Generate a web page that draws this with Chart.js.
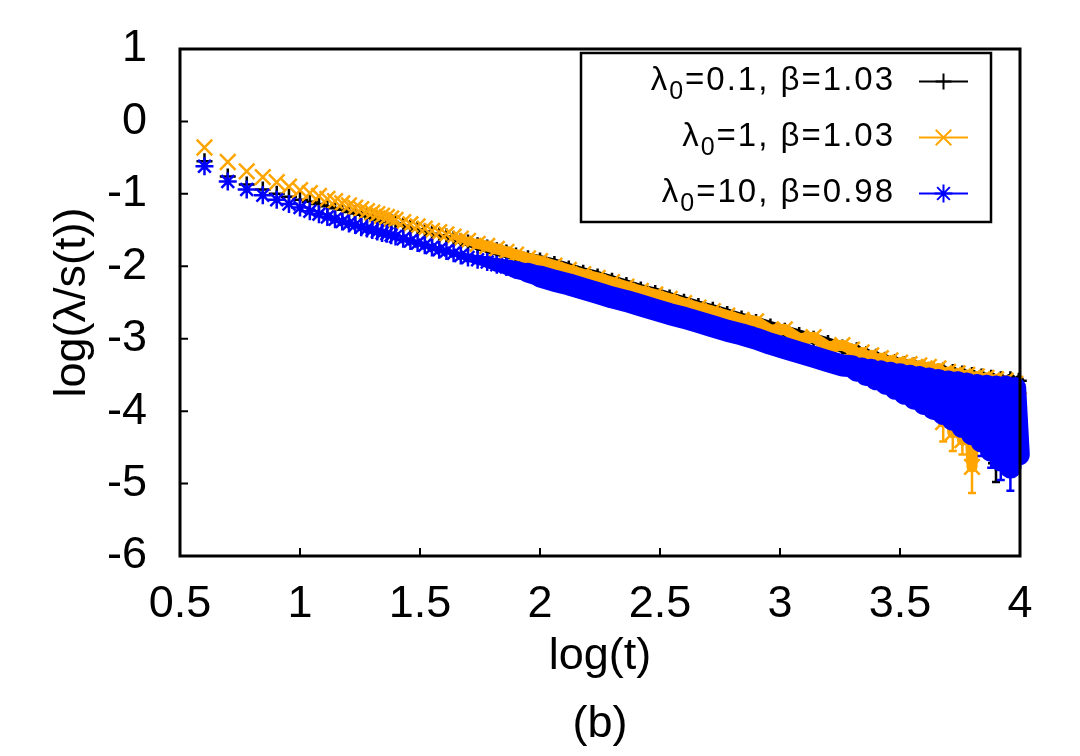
<!DOCTYPE html>
<html>
<head>
<meta charset="utf-8">
<title>log(λ/s(t)) vs log(t)</title>
<script src="https://cdn.jsdelivr.net/npm/chart.js@4.4.1/dist/chart.umd.min.js"></script>
<style>
  html, body { margin: 0; padding: 0; background: #fff; }
  #wrap { width: 1080px; height: 756px; }
</style>
</head>
<body>
<div id="wrap"><canvas id="plot" width="1080" height="756"></canvas></div>
<script>
// ---- data ----
// x positions: log10(t)
const logT = [
  0.602, 0.699, 0.778, 0.845, 0.903, 0.954, 1.000, 1.041, 1.079, 1.114, 1.146,
  1.176, 1.204, 1.230, 1.255, 1.279, 1.301, 1.322, 1.342, 1.362, 1.380, 1.398,
  1.43, 1.46, 1.49, 1.52, 1.55, 1.58, 1.61, 1.64, 1.67, 1.70, 1.74, 1.78, 1.82,
  1.86, 1.90, 1.95, 2.00, 2.06, 2.12, 2.18, 2.24, 2.30, 2.36, 2.42, 2.48, 2.54,
  2.60, 2.66, 2.72, 2.78, 2.84, 2.90, 2.96, 3.02, 3.08, 3.14, 3.20, 3.26,
  3.30, 3.32, 3.34, 3.36, 3.38, 3.40, 3.42, 3.44, 3.46, 3.48, 3.50, 3.52, 3.54,
  3.56, 3.58, 3.60, 3.62, 3.64, 3.66, 3.68, 3.70, 3.72, 3.74, 3.76, 3.78, 3.80,
  3.82, 3.84, 3.86, 3.88, 3.90, 3.92, 3.94, 3.96, 3.98, 3.995
];

// lambda0 = 0.1, beta = 1.03
const black01 = [
  -0.55, -0.76, -0.87, -0.94, -1.00, -1.04, -1.08, -1.11, -1.14, -1.17, -1.20,
  -1.22, -1.25, -1.27, -1.29, -1.31, -1.33, -1.35, -1.36, -1.38, -1.39, -1.41,
  -1.44, -1.47, -1.49, -1.52, -1.55, -1.57, -1.59, -1.62, -1.65, -1.67, -1.71, -1.74, -1.78,
  -1.81, -1.85, -1.89, -1.92, -1.97, -2.03, -2.09, -2.14, -2.20, -2.26, -2.32, -2.37, -2.43,
  -2.49, -2.55, -2.60, -2.66, -2.72, -2.77, -2.83, -2.89, -2.95, -3.00, -3.06, -3.12,
  -3.18, -3.16, -3.25, -3.21, -3.30, -3.25, -3.36, -3.29, -3.42, -3.32, -3.48, -3.35, -3.55,
  -3.37, -3.62, -3.40, -3.70, -3.42, -3.78, -3.44, -3.88, -3.46, -3.98, -3.48, -4.10, -3.50,
  -4.20, -3.52, -4.35, -3.54, -4.72, -3.56, -4.50, -3.56, -4.60, -3.58
];

// lambda0 = 1, beta = 1.03
const orange1 = [
  -0.36, -0.56, -0.69, -0.77, -0.84, -0.90, -0.95, -0.99, -1.03, -1.07, -1.10,
  -1.13, -1.16, -1.19, -1.21, -1.24, -1.26, -1.28, -1.30, -1.32, -1.34, -1.36,
  -1.39, -1.42, -1.45, -1.48, -1.51, -1.53, -1.56, -1.59, -1.62, -1.65, -1.69, -1.72, -1.76,
  -1.80, -1.84, -1.89, -1.93, -1.99, -2.05, -2.11, -2.16, -2.22, -2.28, -2.34, -2.39, -2.45,
  -2.51, -2.57, -2.62, -2.68, -2.74, -2.76, -2.88, -2.87, -3.00, -2.98, -3.11, -3.09,
  -3.15, -3.24, -3.19, -3.30, -3.23, -3.36, -3.27, -3.42, -3.30, -3.48, -3.33, -3.55, -3.35,
  -3.62, -3.37, -3.70, -3.39, -3.82, -3.41, -4.15, -3.46, -4.30, -3.48, -4.40, -3.50, -4.77,
  -3.52, -4.15, -3.54, -3.95, -3.56, -4.05, -3.58, -3.90, -3.62, -3.85
];

// lambda0 = 10, beta = 0.98
const blue10 = [
  -0.62, -0.83, -0.94, -1.02, -1.08, -1.14, -1.19, -1.24, -1.28, -1.32, -1.35,
  -1.38, -1.41, -1.43, -1.46, -1.48, -1.50, -1.52, -1.54, -1.55, -1.57, -1.59,
  -1.62, -1.65, -1.68, -1.71, -1.74, -1.77, -1.79, -1.82, -1.85, -1.88, -1.91, -1.94, -1.98,
  -2.01, -2.05, -2.09, -2.14, -2.20, -2.25, -2.31, -2.37, -2.43, -2.48, -2.54, -2.60, -2.66,
  -2.71, -2.77, -2.83, -2.89, -2.94, -3.00, -3.07, -3.13, -3.19, -3.25, -3.31, -3.37,
  -3.38, -3.44, -3.41, -3.50, -3.43, -3.56, -3.45, -3.62, -3.47, -3.69, -3.49, -3.76, -3.51,
  -3.83, -3.53, -3.90, -3.55, -3.97, -3.57, -4.04, -3.59, -4.12, -3.60, -4.22, -3.62, -4.32,
  -3.64, -4.42, -3.65, -4.55, -3.66, -4.68, -3.66, -4.78, -3.68, -4.60
];

// the few error bars that stick out below the band at large t
const blackErrX  = [3.86, 3.90, 3.94, 3.98];
const blackErrLo = [-4.55, -4.98, -4.75, -4.85];
const blackErrHi = [-4.20, -4.50, -4.32, -4.42];
const orangeErrX  = [3.68, 3.72, 3.76, 3.80];
const orangeErrLo = [-4.42, -4.55, -4.60, -5.13];
const orangeErrHi = [-3.98, -4.12, -4.25, -4.52];
const blueErrX  = [3.84, 3.88, 3.92, 3.96];
const blueErrLo = [-4.62, -4.78, -4.95, -5.10];
const blueErrHi = [-4.25, -4.35, -4.45, -4.55];

const xTickVals = [0.5, 1, 1.5, 2, 2.5, 3, 3.5, 4];
const yTickVals = [1, 0, -1, -2, -3, -4, -5, -6];

const legendLambda0 = ['0.1', '1', '10'];
const legendBeta = ['1.03', '1.03', '0.98'];

// ---- styling ----
const FONT = '"Liberation Sans", Arial, Helvetica, sans-serif';
const COL_BLACK = '#000000';
const COL_ORANGE = '#ffa500';
const COL_BLUE = '#0000ff';

function pts(ys) {
    return logT.map((x, i) => ({ x: x, y: ys[i] }));
}

// thick band under the dense part of each series (where gnuplot's thousands of markers merge)
function bandSegment(color, from, maxW) {
    return {
        borderColor: c => c.p0.parsed.x < from ? 'rgba(0,0,0,0)' : color,
        borderWidth: c => {
            const x = c.p0.parsed.x;
            if (x < from) return 1;
            return Math.min(maxW, 5 + (x - from) * 45);
        }
    };
}

function series(label, ys, color, style, radius, order, bandW, err) {
    return {
        label: label,
        data: pts(ys),
        showLine: true,
        borderColor: color,
        borderWidth: bandW,
        borderCapStyle: 'round',
        borderJoinStyle: 'round',
        segment: bandSegment(color, 1.62, bandW),
        pointStyle: style,
        pointRadius: radius,
        pointBorderWidth: 2.5,
        pointBorderColor: color,
        pointBackgroundColor: color,
        order: order,
        clip: 12,
        errBars: err
    };
}

function drawMark(ctx, style, x, y, r) {
    ctx.beginPath();
    if (style === 'cross' || style === 'star') {
        ctx.moveTo(x - r, y); ctx.lineTo(x + r, y);
        ctx.moveTo(x, y - r); ctx.lineTo(x, y + r);
    }
    if (style === 'crossRot' || style === 'star') {
        const d = r * Math.SQRT1_2;
        ctx.moveTo(x - d, y - d); ctx.lineTo(x + d, y + d);
        ctx.moveTo(x - d, y + d); ctx.lineTo(x + d, y - d);
    }
    ctx.stroke();
}

// error bars, drawn right after their own dataset so stacking matches gnuplot
const errorBarPlugin = {
    id: 'errorBars',
    afterDatasetDraw(chart, args) {
        const ds = chart.data.datasets[args.index];
        if (!ds.errBars) return;
        const { ctx, scales: { x, y } } = chart;
        const e = ds.errBars;
        ctx.save();
        ctx.strokeStyle = ds.borderColor;
        ctx.lineWidth = 2.5;
        e.x.forEach((xv, i) => {
            const px = x.getPixelForValue(xv);
            const lo = y.getPixelForValue(e.lo[i]);
            const hi = y.getPixelForValue(e.hi[i]);
            ctx.beginPath();
            ctx.moveTo(px, hi); ctx.lineTo(px, lo);
            ctx.moveTo(px - 4, lo); ctx.lineTo(px + 4, lo);
            ctx.moveTo(px - 4, hi); ctx.lineTo(px + 4, hi);
            ctx.stroke();
        });
        ctx.restore();
    }
};

// border, inward ticks, key box and the panel tag
const framePlugin = {
    id: 'frame',
    afterDraw(chart) {
        const { ctx, chartArea: a, scales: { x, y } } = chart;
        ctx.save();
        ctx.strokeStyle = '#000';
        ctx.lineWidth = 2;
        ctx.beginPath();
        yTickVals.forEach(v => {
            const py = y.getPixelForValue(v);
            ctx.moveTo(a.left, py); ctx.lineTo(a.left + 8, py);
        });
        xTickVals.forEach(v => {
            const px = x.getPixelForValue(v);
            ctx.moveTo(px, a.bottom); ctx.lineTo(px, a.bottom - 8);
        });
        ctx.stroke();
        ctx.lineWidth = 3;
        ctx.strokeRect(a.left, a.top, a.right - a.left, a.bottom - a.top);

        // key
        ctx.lineWidth = 2.5;
        ctx.strokeRect(581, 53, 410, 169);
        const sets = chart.data.datasets;
        [0, 1, 2].forEach((i, row) => {
            const ds = sets[i];
            const base = 90 + row * 56;
            const main = '33px ' + FONT;
            const small = '25px ' + FONT;
            if ('letterSpacing' in ctx) ctx.letterSpacing = '2px';
            ctx.fillStyle = '#000';
            ctx.textBaseline = 'alphabetic';
            ctx.textAlign = 'left';
            const post = '=' + legendLambda0[i] + ', β=' + legendBeta[i];
            ctx.font = main;
            const wL = ctx.measureText('λ').width;
            const wP = ctx.measureText(post).width;
            ctx.font = small;
            const wS = ctx.measureText('0').width;
            let tx = 895 - (wL + wS + wP);
            ctx.font = main;
            ctx.fillText('λ', tx, base);
            tx += wL;
            ctx.font = small;
            ctx.fillText('0', tx, base + 9);
            tx += wS;
            ctx.font = main;
            ctx.fillText(post, tx, base);
            if ('letterSpacing' in ctx) ctx.letterSpacing = '0px';

            const ly = base - 8.5;
            ctx.strokeStyle = ds.borderColor;
            ctx.lineWidth = 2;
            ctx.beginPath();
            ctx.moveTo(919, ly); ctx.lineTo(968, ly);
            ctx.stroke();
            drawMark(ctx, ds.pointStyle, 943.5, ly, ds.pointRadius);
        });

        ctx.fillStyle = '#000';
        ctx.font = '45px ' + FONT;
        ctx.textAlign = 'center';
        ctx.textBaseline = 'alphabetic';
        ctx.fillText('(b)', (a.left + a.right) / 2, 737);
        ctx.restore();
    }
};

const datasets = [
    series('λ0=0.1, β=1.03', black01, COL_BLACK, 'cross', 8, 3, 11,
        { x: blackErrX, lo: blackErrLo, hi: blackErrHi }),
    series('λ0=1, β=1.03', orange1, COL_ORANGE, 'crossRot', 11, 2, 11,
        { x: orangeErrX, lo: orangeErrLo, hi: orangeErrHi }),
    series('λ0=10, β=0.98', blue10, COL_BLUE, 'star', 9, 1, 22,
        { x: blueErrX, lo: blueErrLo, hi: blueErrHi })
];

const tickFont = { family: FONT, size: 45 };

new Chart(document.getElementById('plot'), {
    type: 'scatter',
    data: { datasets: datasets },
    plugins: [errorBarPlugin, framePlugin],
    options: {
        responsive: false,
        devicePixelRatio: 1,
        animation: false,
        events: [],
        layout: { padding: { left: 0, right: 60, top: 49, bottom: 0 } },
        plugins: {
            legend: { display: false },
            tooltip: { enabled: false }
        },
        scales: {
            x: {
                type: 'linear',
                min: 0.5,
                max: 4,
                afterFit: s => { s.height = 200; },
                afterBuildTicks: s => { s.ticks = xTickVals.map(v => ({ value: v })); },
                grid: { display: false, drawTicks: false },
                border: { display: false },
                ticks: { padding: 22, color: '#000', font: tickFont, maxRotation: 0, callback: v => String(v) },
                title: {
                    display: true, text: 'log(t)', color: '#000', font: tickFont,
                    padding: { top: 0, bottom: 72 }
                }
            },
            y: {
                type: 'linear',
                min: -6,
                max: 1,
                // keep the label gap from pushing the plot area down
                afterFit: s => { s.width = 180; s.paddingTop = 0; s.paddingBottom = 0; },
                afterBuildTicks: s => { s.ticks = yTickVals.map(v => ({ value: v })); },
                grid: { display: false, drawTicks: false },
                border: { display: false },
                ticks: { padding: 33, color: '#000', font: tickFont, callback: v => String(v) },
                title: {
                    display: true, text: 'log(λ/s(t))', color: '#000', font: tickFont,
                    padding: { top: 46, bottom: 0 }
                }
            }
        }
    }
});
</script>
</body>
</html>
